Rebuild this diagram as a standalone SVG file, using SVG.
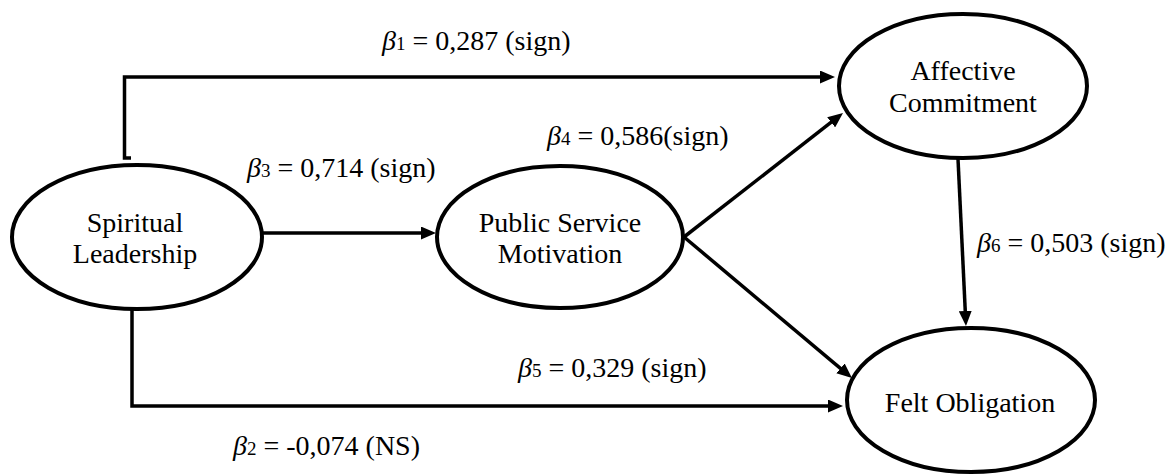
<svg xmlns="http://www.w3.org/2000/svg" width="1171" height="474" viewBox="0 0 1171 474">
  <style>
    .node ellipse { fill: #ffffff; stroke: #000000; stroke-width: 4; }
    .node text { font-family: "Liberation Serif", "Times New Roman", serif; font-size: 28px; fill: #000000; text-anchor: middle; }
    .edge { fill: none; stroke: #000000; stroke-width: 3.5; }
    .coef { font-family: "Liberation Serif", "Times New Roman", serif; font-size: 28px; fill: #000000; }
    .coef .b { font-style: italic; }
    .coef .sub { font-size: 19px; }
  </style>
  <defs>
    <marker id="arrow" markerUnits="userSpaceOnUse" markerWidth="16" markerHeight="13" refX="5" refY="6.5" orient="auto">
      <path d="M0,0 L15,6.5 L0,13 z" fill="#000000"/>
    </marker>
  </defs>

  <!-- connectors -->
  <g id="connectors">
    <path class="edge" d="M131,158 H124.5 V77 H825" marker-end="url(#arrow)"/>
    <path class="edge" d="M132,309 V406 H833" marker-end="url(#arrow)"/>
    <path class="edge" d="M262,233 H426" marker-end="url(#arrow)"/>
    <path class="edge" d="M684,237 L835.1,119.2" marker-end="url(#arrow)"/>
    <path class="edge" d="M684,237 L844.3,371.6" marker-end="url(#arrow)"/>
    <path class="edge" d="M958,159 L965.5,316" marker-end="url(#arrow)"/>
  </g>

  <!-- nodes -->
  <g id="spiritual-leadership" class="node">
    <ellipse cx="137" cy="237" rx="125" ry="72"/>
    <text x="135" y="232">Spiritual</text>
    <text x="135" y="263">Leadership</text>
  </g>
  <g id="public-service-motivation" class="node">
    <ellipse cx="560" cy="237" rx="123" ry="71"/>
    <text x="560" y="232">Public Service</text>
    <text x="560" y="263">Motivation</text>
  </g>
  <g id="affective-commitment" class="node">
    <ellipse cx="963" cy="86" rx="124" ry="72"/>
    <text x="963" y="80">Affective</text>
    <text x="963" y="112">Commitment</text>
  </g>
  <g id="felt-obligation" class="node">
    <ellipse cx="971" cy="400" rx="124" ry="72"/>
    <text x="970" y="412">Felt Obligation</text>
  </g>

  <!-- path coefficients -->
  <g id="labels">
    <text class="coef" x="382" y="50"><tspan class="b">β</tspan><tspan class="sub">1</tspan> = 0,287 (sign)</text>
    <text class="coef" x="247" y="177"><tspan class="b">β</tspan><tspan class="sub">3</tspan> = 0,714 (sign)</text>
    <text class="coef" x="547" y="145"><tspan class="b">β</tspan><tspan class="sub">4</tspan> = 0,586(sign)</text>
    <text class="coef" x="977" y="252"><tspan class="b">β</tspan><tspan class="sub">6</tspan> = 0,503 (sign)</text>
    <text class="coef" x="518" y="377"><tspan class="b">β</tspan><tspan class="sub">5</tspan> = 0,329 (sign)</text>
    <text class="coef" x="233" y="455"><tspan class="b">β</tspan><tspan class="sub">2</tspan> = -0,074 (NS)</text>
  </g>
</svg>
